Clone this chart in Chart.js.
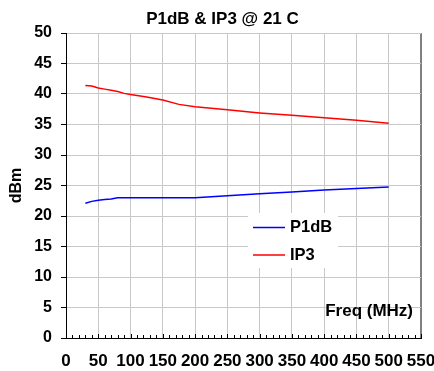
<!DOCTYPE html>
<html>
<head>
<meta charset="utf-8">
<script src="https://cdn.jsdelivr.net/npm/chart.js@4/dist/chart.umd.min.js"></script>
<style>
  html, body { margin: 0; padding: 0; background: #fff; }
  #wrap { width: 434px; height: 371px; }
</style>
</head>
<body>
<div id="wrap"><canvas id="c" width="434" height="371"></canvas></div>
<script>
const chartTitle = 'P1dB & IP3 @ 21 C';
const yTitle = 'dBm';
const xNote = 'Freq (MHz)';
const seriesNames = ['P1dB', 'IP3'];

const p1dbFreq = [30, 40, 50, 60, 70, 80, 100, 150, 200, 250, 300, 350, 400, 450, 500];
const p1dbVals = [22.1, 22.4, 22.6, 22.7, 22.8, 23.0, 23.0, 23.0, 23.0, 23.3, 23.65, 23.95, 24.25, 24.5, 24.75];

const ip3Freq = [30, 40, 50, 60, 70, 80, 90, 100, 125, 150, 175, 200, 250, 300, 350, 400, 450, 500];
const ip3Vals = [41.4, 41.3, 41.0, 40.8, 40.6, 40.4, 40.1, 39.9, 39.5, 39.0, 38.3, 37.9, 37.4, 36.9, 36.5, 36.1, 35.7, 35.2];

const xMin = 0, xMax = 550, xStep = 50, xMinorStep = 10;
const yMin = 0, yMax = 50, yStep = 5;

const FONT = '"Liberation Sans", Arial, sans-serif';

const overlay = {
  id: 'overlay',
  afterDraw(chart) {
    const ctx = chart.ctx;
    const xs = chart.scales.x;
    const ca = chart.chartArea;
    ctx.save();
    // minor ticks on the bottom axis (pointing inward)
    ctx.strokeStyle = '#000';
    ctx.lineWidth = 1;
    for (let v = xMin; v <= xMax; v += xMinorStep) {
      const px = Math.round(xs.getPixelForValue(v)) + 0.5;
      const len = (v % xStep === 0) ? 4 : 3;
      ctx.beginPath();
      ctx.moveTo(px, ca.bottom);
      ctx.lineTo(px, ca.bottom - len);
      ctx.stroke();
    }
    ctx.fillStyle = '#000';
    ctx.textBaseline = 'middle';
    // title
    ctx.font = 'bold 17px ' + FONT;
    ctx.textAlign = 'center';
    ctx.fillText(chartTitle, 222.5, 19.5);
    // axis note inside plot
    ctx.textAlign = 'right';
    ctx.fillText(xNote, 413, 311);
    // legend
    const lx = 248, ly = 213, lw = 90, lh = 55;
    ctx.fillStyle = '#fff';
    ctx.fillRect(lx, ly, lw, lh);
    chart.data.datasets.forEach((ds, i) => {
      const yy = 227.5 + i * 27.5;
      ctx.strokeStyle = ds.borderColor;
      ctx.lineWidth = 1.5;
      ctx.beginPath();
      ctx.moveTo(253, yy);
      ctx.lineTo(285, yy);
      ctx.stroke();
      ctx.fillStyle = '#000';
      ctx.textAlign = 'left';
      ctx.font = 'bold 16.5px ' + FONT;
      ctx.fillText(ds.label, 290, yy);
    });
    ctx.restore();
  }
};

const toPts = (xsArr, ysArr) => xsArr.map((x, i) => ({ x: x, y: ysArr[i] }));

new Chart(document.getElementById('c'), {
  type: 'line',
  data: {
    datasets: [
      { label: seriesNames[0], data: toPts(p1dbFreq, p1dbVals), borderColor: '#0000FF', borderWidth: 1.5, pointRadius: 0, tension: 0, fill: false },
      { label: seriesNames[1], data: toPts(ip3Freq, ip3Vals), borderColor: '#FF0000', borderWidth: 1.5, pointRadius: 0, tension: 0, fill: false }
    ]
  },
  options: {
    responsive: false,
    animation: false,
    devicePixelRatio: 1,
    layout: { padding: { top: 33, left: 0, right: 0, bottom: 0 } },
    plugins: {
      legend: { display: false },
      title: { display: false },
      tooltip: { enabled: false }
    },
    scales: {
      x: {
        type: 'linear',
        min: xMin, max: xMax,
        ticks: { stepSize: xStep, color: '#000', font: { family: FONT, size: 17, weight: 'bold' }, padding: 13.3, maxRotation: 0 },
        grid: {
          drawTicks: false,
          color: (c) => (c.tick && c.tick.value === xMax) ? '#808080' : '#C8C8C8',
          lineWidth: (c) => (c.tick && c.tick.value === xMax) ? 2 : 1
        },
        border: { color: '#000', width: 1 },
        afterFit(s) { s.height = 33; s.paddingRight = 13; s.paddingLeft = 0; }
      },
      y: {
        min: yMin, max: yMax,
        ticks: { stepSize: yStep, color: '#000', font: { family: FONT, size: 16, weight: 'bold' }, padding: 9 },
        grid: { color: '#C8C8C8', tickColor: '#000', tickLength: 5, drawTicks: true },
        border: { color: '#000', width: 1 },
        title: { display: true, text: yTitle, color: '#000', font: { family: FONT, size: 16, weight: 'bold' }, padding: { top: 6.9, bottom: 0 } },
        afterFit(s) { s.width = 66; }
      }
    }
  },
  plugins: [overlay]
});
</script>
</body>
</html>
